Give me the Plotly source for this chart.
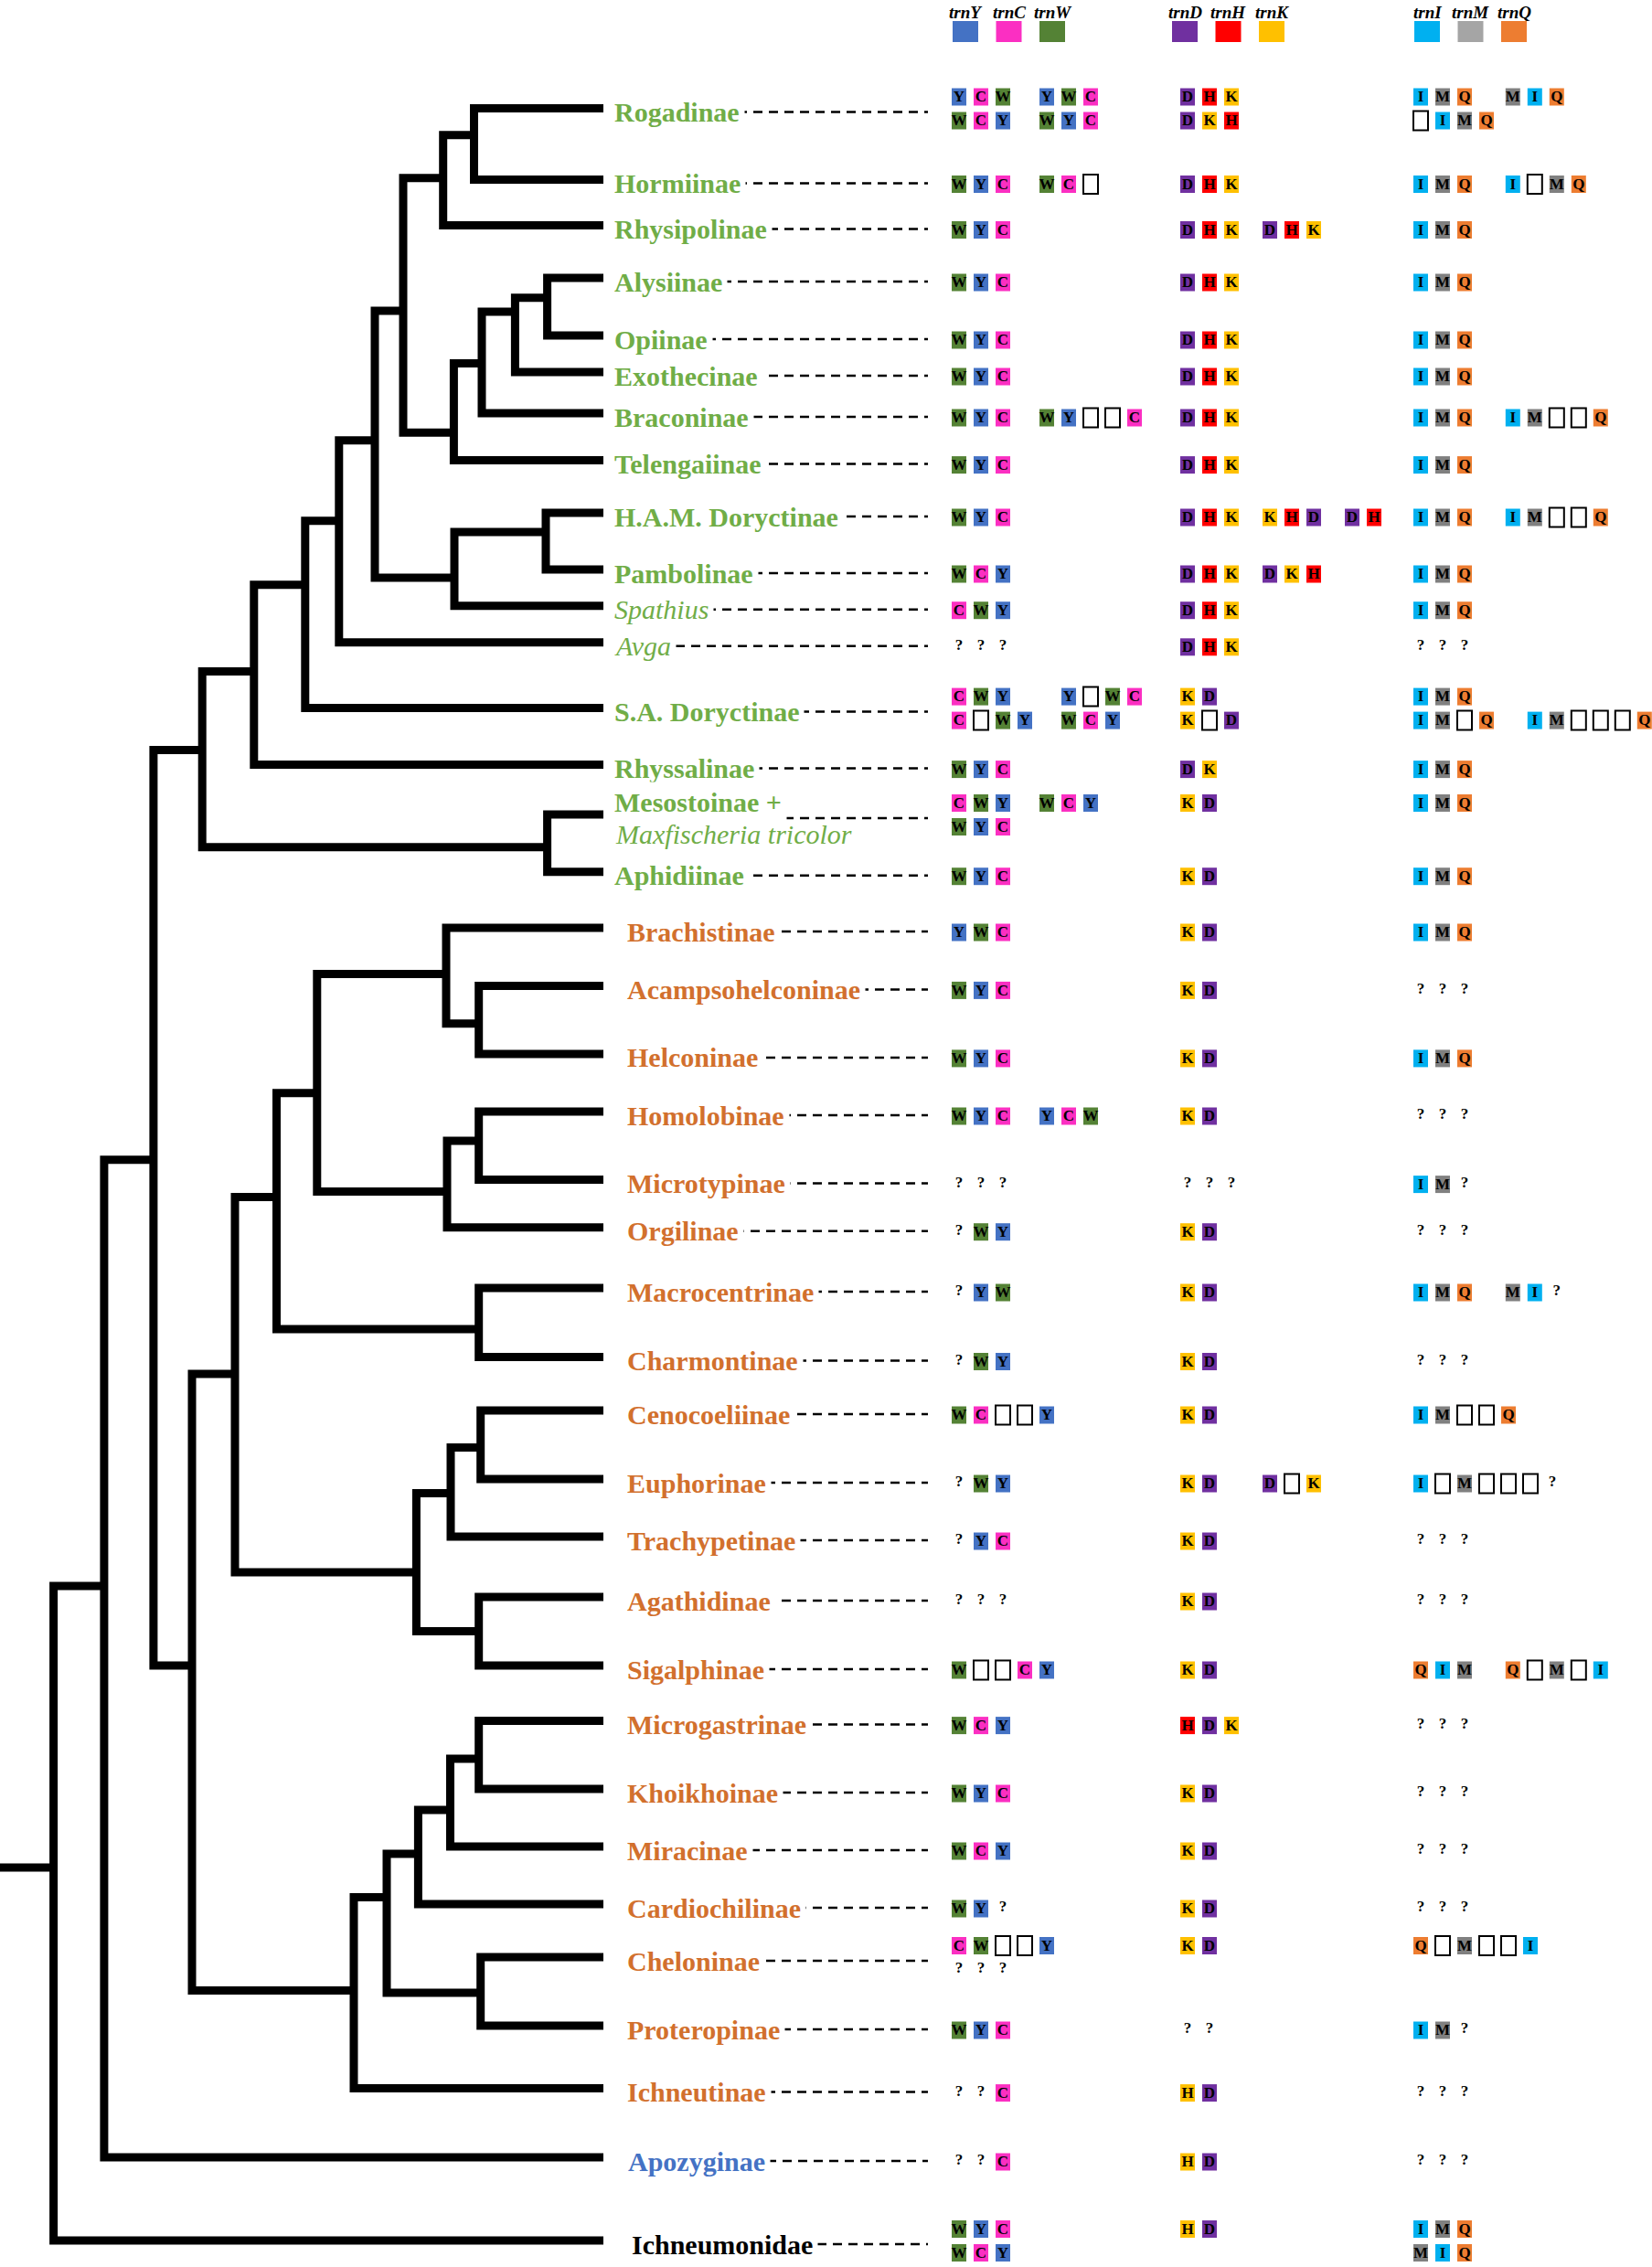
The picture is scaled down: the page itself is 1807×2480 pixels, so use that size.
import plotly.graph_objects as go

W, H = 1807, 2480

# ---------------- data ----------------
taxa = [
    "Rogadinae", "Hormiinae", "Rhysipolinae", "Alysiinae", "Opiinae", "Exothecinae",
    "Braconinae", "Telengaiinae", "H.A.M. Doryctinae", "Pambolinae", "Spathius", "Avga",
    "S.A. Doryctinae", "Rhyssalinae", "Mesostoinae +", "Aphidiinae",
    "Brachistinae", "Acampsohelconinae", "Helconinae", "Homolobinae", "Microtypinae",
    "Orgilinae", "Macrocentrinae", "Charmontinae", "Cenocoeliinae", "Euphorinae",
    "Trachypetinae", "Agathidinae", "Sigalphinae", "Microgastrinae", "Khoikhoinae",
    "Miracinae", "Cardiochilinae", "Cheloninae", "Proteropinae", "Ichneutinae",
    "Apozyginae", "Ichneumonidae",
]
taxon_sub = {"Mesostoinae +": "Maxfischeria tricolor"}
italic_taxa = ["Spathius", "Avga"]
taxon_group = ["cyclostome"] * 16 + ["non-cyclostome"] * 20 + ["Apozyginae", "outgroup"]

leaf_y = [118.5, 196.5, 246.5, 304, 367, 407, 452, 503.6, 561, 623, 662.7, 702.8,
          774.6, 836.6, 891, 953.7,
          1015, 1078.4, 1152.9, 1216, 1290.6, 1342.7, 1409, 1484.5, 1543, 1618,
          1681, 1747, 1822, 1882.6, 1957, 2020, 2083, 2141, 2216, 2284.6,
          2360, 2451]

# internal nodes: name, depth (x), attach height (y), children
node_names = ["a1", "a2", "a3", "a4", "a5", "a6", "a7", "a8", "a9", "a10", "a11", "a12",
              "a13", "a14", "a15",
              "b1", "b2", "b3", "b4", "b5", "b6", "b7", "b8", "b9", "b10", "b11", "b12",
              "b13", "b14", "b15", "b16", "b17", "b18", "b19", "c1", "c2", "root"]
node_x = [518.5, 484.7, 598.6, 563.4, 527, 496.4, 441, 597, 497, 410, 370.8, 333.8,
          277.8, 598.6, 221.2,
          523.7, 488, 523.7, 489, 346.8, 523.7, 302.5, 525.7, 493, 523.7, 455.4, 257,
          523.7, 492.5, 457.4, 525.7, 423, 387, 210, 167.9, 113.9, 58.6]
node_y = [147.7, 194.8, 325.7, 341, 397.5, 473.2, 340, 582, 632, 481.8, 569.7, 639.7,
          734.4, 926.7, 820.5,
          1119.7, 1065.6, 1248, 1303.4, 1195.7, 1453.9, 1309.5, 1583.5, 1633.5, 1784.6, 1720, 1503,
          1924, 1980, 2028, 2180, 2075.6, 2177.6, 1822, 1268.7, 1735, 2043]
node_children = [
    ("Rogadinae", "Hormiinae"), ("a1", "Rhysipolinae"), ("Alysiinae", "Opiinae"),
    ("a3", "Exothecinae"), ("a4", "Braconinae"), ("a5", "Telengaiinae"), ("a2", "a6"),
    ("H.A.M. Doryctinae", "Pambolinae"), ("a8", "Spathius"), ("a7", "a9"), ("a10", "Avga"),
    ("a11", "S.A. Doryctinae"), ("a12", "Rhyssalinae"), ("Mesostoinae +", "Aphidiinae"),
    ("a13", "a14"),
    ("Acampsohelconinae", "Helconinae"), ("Brachistinae", "b1"), ("Homolobinae", "Microtypinae"),
    ("b3", "Orgilinae"), ("b2", "b4"), ("Macrocentrinae", "Charmontinae"), ("b5", "b6"),
    ("Cenocoeliinae", "Euphorinae"), ("b8", "Trachypetinae"), ("Agathidinae", "Sigalphinae"),
    ("b9", "b10"), ("b7", "b11"),
    ("Microgastrinae", "Khoikhoinae"), ("b13", "Miracinae"), ("b14", "Cardiochilinae"),
    ("Cheloninae", "Proteropinae"), ("b15", "b16"), ("b17", "Ichneutinae"), ("b12", "b18"),
    ("a15", "b19"), ("c1", "Apozyginae"), ("c2", "Ichneumonidae"),
]

# gene orders: '|' separates stacked variants, ' ' separates alternative arrangements,
# '_' = empty (gene-less) slot, '?' = unknown, 'h' = trnH in trnK position
trn_YCW = [
    "YCW YWC|WCY WYC", "WYC WC_", "WYC", "WYC", "WYC", "WYC", "WYC WY__C", "WYC",
    "WYC", "WCY", "CWY", "???", "CWY Y_WC|C_WY WCY", "WYC", "CWY WCY|WYC", "WYC",
    "YWC", "WYC", "WYC", "WYC YCW", "???", "?WY", "?YW", "?WY", "WC__Y", "?WY",
    "?YC", "???", "W__CY", "WCY", "WYC", "WCY", "WY?", "CW__Y|???", "WYC", "??C",
    "??C", "WYC|WCY",
]
trn_DHK = [
    "DHK|DKH", "DHK", "DHK DHK", "DHK", "DHK", "DHK", "DHK", "DHK", "DHK KHD DH",
    "DHK DKH", "DHK", "DHK", "KD|K_D", "DK", "KD", "KD",
    "KD", "KD", "KD", "KD", "???", "KD", "KD", "KD", "KD", "KD D_K", "KD", "KD", "KD",
    "HDK", "KD", "KD", "KD", "KD", "??", "hD", "hD", "hD",
]
trn_IMQ = [
    "IMQ MIQ|_IMQ", "IMQ I_MQ", "IMQ", "IMQ", "IMQ", "IMQ", "IMQ IM__Q", "IMQ",
    "IMQ IM__Q", "IMQ", "IMQ", "???", "IMQ|IM_Q IM___Q", "IMQ", "IMQ", "IMQ",
    "IMQ", "???", "IMQ", "???", "IM?", "???", "IMQ MI?", "???", "IM__Q", "I_M___?",
    "???", "???", "QIM Q_M_I", "???", "???", "???", "???", "Q_M__I", "IM?", "???",
    "???", "IMQ|MIQ",
]

legend_genes = [["Y", "C", "W"], ["D", "H", "K"], ["I", "M", "Q"]]

# ---------------- styles ----------------
gene_color = {"Y": "#4472C4", "C": "#FB2FC2", "W": "#548235", "D": "#7030A0",
              "H": "#FF0000", "K": "#FFC000", "I": "#00B0F0", "M": "#808080",
              "Q": "#ED7D31"}
legend_color = dict(gene_color, M="#A5A5A5")
group_color = {"cyclostome": "#70AD47", "non-cyclostome": "#D2702D",
               "Apozyginae": "#4472C4", "outgroup": "#000000"}
label_x = {"cyclostome": 671, "non-cyclostome": 685, "Apozyginae": 686, "outgroup": 690}
SERIF = "Liberation Serif"
TIP_X = 660
DASH_END = 1015
col_start = [1041, 1291, 1546]
col_gap = [1.0, 0.75, 1.2]
PITCH = 24
BW, BH = 16, 19

fig = go.Figure()

# ---------------- tree ----------------
pos = {t: (TIP_X, y) for t, y in zip(taxa, leaf_y)}
for n, x, y in zip(node_names, node_x, node_y):
    pos[n] = (x, y)
tx, ty = [], []
for n, x, ch in zip(node_names, node_x, node_children):
    (x1, y1), (x2, y2) = pos[ch[0]], pos[ch[1]]
    tx += [x1, x, x, x2, None]
    ty += [y1, y1, y2, y2, None]
rx, ry = pos["root"]
tx += [0, rx, None]
ty += [ry, ry, None]
fig.add_trace(go.Scatter(x=tx, y=ty, mode="lines", line=dict(color="black", width=9),
                         hoverinfo="skip", showlegend=False))

# ---------------- dashed leaders ----------------
dx, dy = [], []
for t, y, g in zip(taxa, leaf_y, taxon_group):
    dx += [label_x[g], DASH_END, None]
    dy += [y + 4, y + 4, None]
fig.add_trace(go.Scatter(x=dx, y=dy, mode="lines",
                         line=dict(color="black", width=2.5, dash="10px,7px"),
                         hoverinfo="skip", showlegend=False))

# ---------------- gene boxes ----------------
shapes = []
let_x, let_y, let_t = [], [], []
q_x, q_y = [], []


def add_token(tok, cx, cy):
    if tok == "?":
        q_x.append(cx); q_y.append(cy - 1)
        return
    if tok == "_":
        shapes.append(dict(type="rect", xref="x", yref="y", x0=cx - BW / 2, x1=cx + BW / 2,
                           y0=cy - BH / 2 - 1, y1=cy + BH / 2 + 1, fillcolor="white",
                           line=dict(color="black", width=2), layer="below"))
        return
    letter = tok.upper()
    col = gene_color["K"] if tok == "h" else gene_color[letter]
    shapes.append(dict(type="rect", xref="x", yref="y", x0=cx - BW / 2, x1=cx + BW / 2,
                       y0=cy - BH / 2, y1=cy + BH / 2, fillcolor=col,
                       line=dict(width=0), layer="below"))
    let_x.append(cx); let_y.append(cy + 1); let_t.append(letter)


for i, y in enumerate(leaf_y):
    cols = [trn_YCW[i], trn_DHK[i], trn_IMQ[i]]
    n_sub = max(len(c.split("|")) for c in cols)
    if n_sub == 1:
        sub_y = [y + 5]
    else:
        sub_y = [y + 0.5 - 13, y + 0.5 + 13]
    for c, s in enumerate(cols):
        subrows = [r.split(" ") for r in s.split("|")]
        ngroups = max(len(r) for r in subrows)
        starts = [0.0]
        for k in range(1, ngroups):
            prev = max(len(r[k - 1]) for r in subrows if len(r) > k)
            starts.append(starts[-1] + max(3, prev) + col_gap[c])
        for j, r in enumerate(subrows):
            for k, grp in enumerate(r):
                for m, tok in enumerate(grp):
                    cx = col_start[c] + BW / 2 + (starts[k] + m) * PITCH
                    add_token(tok, cx, sub_y[j])

# ---------------- header legend ----------------
for c, genes in enumerate(legend_genes):
    for m, g in enumerate(genes):
        cx = col_start[c] + 15 + m * 47.5 - (10 if c == 1 else 0)
        shapes.append(dict(type="rect", xref="x", yref="y", x0=cx - 14, x1=cx + 14,
                           y0=23, y1=46, fillcolor=legend_color[g], line=dict(width=0),
                           layer="below"))
        fig.add_annotation(x=cx, y=13, xref="x", yref="y", text=f"<b><i>trn{g}</i></b>",
                           showarrow=False, xanchor="center", yanchor="middle",
                           borderpad=0,
                           font=dict(family=SERIF, size=19, color="black"))

fig.add_trace(go.Scatter(x=let_x, y=let_y, mode="text", text=let_t,
                         textposition="middle center",
                         textfont=dict(family=SERIF, size=17, color="black", weight="bold"),
                         hoverinfo="skip", showlegend=False))
fig.add_trace(go.Scatter(x=q_x, y=q_y, mode="text", text=["?"] * len(q_x),
                         textposition="middle center",
                         textfont=dict(family=SERIF, size=17, color="black", weight="bold"),
                         hoverinfo="skip", showlegend=False))

# ---------------- taxon labels ----------------
PAD = 5
for t, y, g in zip(taxa, leaf_y, taxon_group):
    color = group_color[g]
    if t in italic_taxa:
        txt = f"<i>{t}</i>"
    else:
        txt = f"<b>{t}</b>"
    ly = y + 4
    if t in taxon_sub:
        ly = y - 14
    fig.add_annotation(x=label_x[g] - PAD, y=ly, xref="x", yref="y", text=txt,
                       showarrow=False, xanchor="left", yanchor="middle",
                       font=dict(family=SERIF, size=30, color=color),
                       bgcolor="white", borderpad=PAD)
    if t in taxon_sub:
        fig.add_annotation(x=label_x[g], y=y + 21, xref="x", yref="y",
                           text=f"<i>{taxon_sub[t]}</i>", showarrow=False,
                           xanchor="left", yanchor="middle",
                           font=dict(family=SERIF, size=30, color=color))

fig.update_layout(
    width=W, height=H, margin=dict(l=0, r=0, t=0, b=0),
    paper_bgcolor="white", plot_bgcolor="white", shapes=shapes, showlegend=False,
    xaxis=dict(range=[0, W], visible=False, fixedrange=True),
    yaxis=dict(range=[H, 0], visible=False, fixedrange=True),
)
fig.write_html("out.html", config={"displayModeBar": False},
               post_script="document.body.style.margin='0';document.body.style.overflow='hidden';")
